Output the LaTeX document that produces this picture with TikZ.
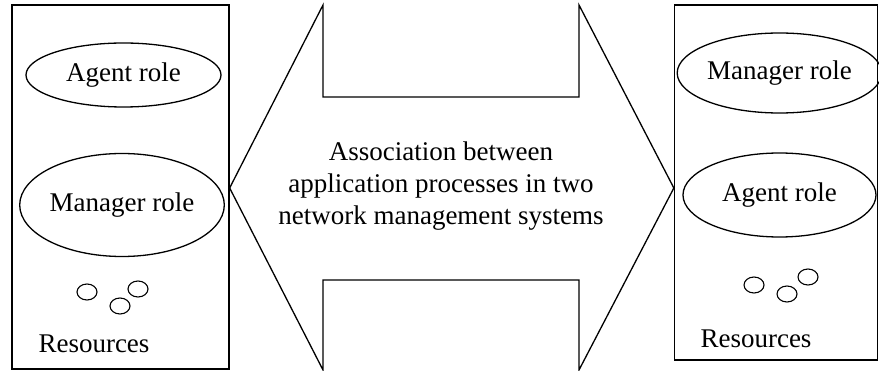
\documentclass[tikz,border=0pt]{standalone}
\usepackage{fontspec}
\setmainfont{Liberation Serif}
\usetikzlibrary{shapes.geometric}
\begin{document}
\begin{tikzpicture}[x=1pt,y=-1pt,line width=1.3pt,
  lbl/.style={font=\fontsize{27}{32}\selectfont},
  role/.style={draw,ellipse,inner sep=0pt,lbl},
  res/.style={draw,ellipse,inner sep=0pt,minimum width=20pt,minimum height=16pt,line width=1.1pt}]
\useasboundingbox (0,0) rectangle (879,371);
% systems
\node[draw,rectangle,minimum width=217pt,minimum height=364pt,inner sep=0pt] (sysL) at (120.5,187) {};
\node[draw,rectangle,minimum width=203pt,minimum height=355pt,inner sep=0pt] (sysR) at (776,182.5) {};
% roles
\node[role,minimum width=195pt,minimum height=64pt] (agentL) at (123.5,75) {Agent role};
\node[role,minimum width=194pt,minimum height=103pt] (mgrL) at (122,205) {Manager role};
\node[role,minimum width=193pt,minimum height=80pt] (mgrR) at (779.5,73) {Manager role};
\node[role,minimum width=193pt,minimum height=84pt] (agentR) at (779.5,195) {Agent role};
% resources
\node[res] (rL1) at (87,292) {};
\node[res] (rL2) at (120,306) {};
\node[res] (rL3) at (138,289) {};
\node[lbl] (resL) at (94,344) {Resources};
\node[res] (rR1) at (754,285) {};
\node[res] (rR2) at (787,294) {};
\node[res] (rR3) at (808,277) {};
\node[lbl] (resR) at (756,339) {Resources};
% double arrow
\coordinate (tipL) at (sysL.east |- 0,188);
\coordinate (tipR) at (sysR.west |- 0,188);
\draw (tipL) -- (323,5) -- (323,97) -- (579,97) -- (579,5) -- (tipR)
  -- (579,370) -- (579,280) -- (323,280) -- (323,370) -- cycle;
\node[lbl,align=center] (assoc) at (441,186) {Association between\\application processes in two\\network management systems};
\end{tikzpicture}
\end{document}
